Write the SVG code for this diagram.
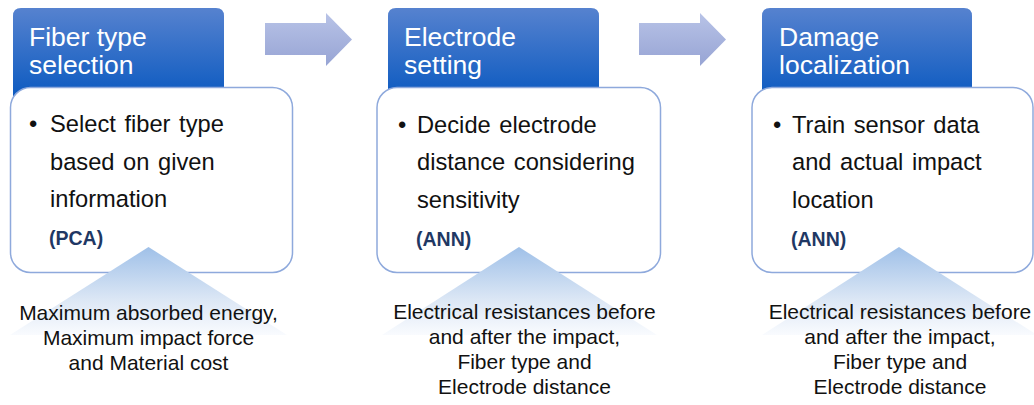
<svg xmlns="http://www.w3.org/2000/svg" width="1034" height="405" viewBox="0 0 1034 405">
<defs>
<linearGradient id="tabG" x1="0" y1="0" x2="0" y2="1">
<stop offset="0" stop-color="#5682CF"/>
<stop offset="1" stop-color="#0A59C0"/>
</linearGradient>
<linearGradient id="arrG" x1="0" y1="0" x2="0" y2="1">
<stop offset="0" stop-color="#B8C3E7"/>
<stop offset="1" stop-color="#97A4D4"/>
</linearGradient>
<linearGradient id="triG" x1="0" y1="0" x2="0" y2="1">
<stop offset="0" stop-color="#9FC0E8"/>
<stop offset="0.6" stop-color="#DCE7F5"/>
<stop offset="1" stop-color="#F9FBFE"/>
</linearGradient>
<style>
.tab{fill:url(#tabG);}
.box{fill:#FFFFFF;stroke:#8EA9DC;stroke-width:1.5;}
.tri{fill:url(#triG);}
.arr{fill:url(#arrG);}
.title{font-family:"Liberation Sans",Arial,sans-serif;font-size:26.5px;fill:#FFFFFF;}
.body{font-family:"Liberation Sans",Arial,sans-serif;font-size:23.7px;fill:#111111;}
.meth{font-family:"Liberation Sans",Arial,sans-serif;font-size:19.5px;font-weight:bold;fill:#1F3864;}
.inp{font-family:"Liberation Sans",Arial,sans-serif;font-size:21px;fill:#111111;text-anchor:middle;}
</style>
</defs>
<g id="connectors">
<path class="arr" d="M265,23 H326 V13 L352,39.5 L326,66 V55 H265 Z"/>
<path class="arr" d="M639,23 H700 V13 L726,39.5 L700,66 V55 H639 Z"/>
</g>
<g id="node1">
<path class="tab" d="M13,100 V16 Q13,8 21,8 H216 Q224,8 224,16 V100 Z"/>
<text class="title" x="29" y="46">Fiber type</text>
<text class="title" x="29" y="74">selection</text>
<rect class="box" x="10.5" y="87.5" width="282" height="185" rx="20" ry="20"/>
<text class="body" x="29" y="132">•</text>
<text class="body" x="50" y="132" word-spacing="2">Select fiber type</text>
<text class="body" x="50" y="169.5" word-spacing="2">based on given</text>
<text class="body" x="50" y="207">information</text>
<text class="meth" x="49" y="245">(PCA)</text>
<path class="tri" d="M148.5,247 L287,335 L10,335 Z"/>
<text class="inp" x="148.5" y="320">Maximum absorbed energy,</text>
<text class="inp" x="148.5" y="345">Maximum impact force</text>
<text class="inp" x="148.5" y="370">and Material cost</text>
</g>
<g id="node2">
<path class="tab" d="M388,100 V16 Q388,8 396,8 H591 Q599,8 599,16 V100 Z"/>
<text class="title" x="404" y="46">Electrode</text>
<text class="title" x="404" y="74">setting</text>
<rect class="box" x="377" y="87.5" width="283.5" height="185" rx="20" ry="20"/>
<text class="body" x="398" y="133">•</text>
<text class="body" x="417" y="133" word-spacing="2">Decide electrode</text>
<text class="body" x="417" y="170" word-spacing="2">distance considering</text>
<text class="body" x="417" y="207.5">sensitivity</text>
<text class="meth" x="416" y="246">(ANN)</text>
<path class="tri" d="M519,247 L657,335 L382,335 Z"/>
<text class="inp" x="524.5" y="319">Electrical resistances before</text>
<text class="inp" x="524.5" y="344">and after the impact,</text>
<text class="inp" x="524.5" y="369">Fiber type and</text>
<text class="inp" x="524.5" y="394">Electrode distance</text>
</g>
<g id="node3">
<path class="tab" d="M762,100 V16 Q762,8 770,8 H964 Q972,8 972,16 V100 Z"/>
<text class="title" x="779" y="46">Damage</text>
<text class="title" x="779" y="74">localization</text>
<rect class="box" x="752" y="87.5" width="281" height="185" rx="20" ry="20"/>
<text class="body" x="773" y="133">•</text>
<text class="body" x="792" y="133" word-spacing="2">Train sensor data</text>
<text class="body" x="792" y="170" word-spacing="2">and actual impact</text>
<text class="body" x="792" y="207.5">location</text>
<text class="meth" x="791" y="246">(ANN)</text>
<path class="tri" d="M899,247 L1037,335 L762,335 Z"/>
<text class="inp" x="900" y="319">Electrical resistances before</text>
<text class="inp" x="900" y="344">and after the impact,</text>
<text class="inp" x="900" y="369">Fiber type and</text>
<text class="inp" x="900" y="394">Electrode distance</text>
</g>
</svg>
